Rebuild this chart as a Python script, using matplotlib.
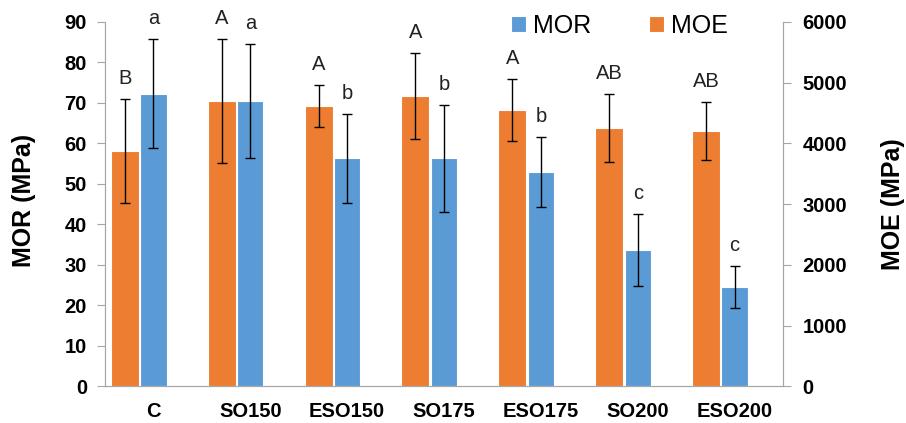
import matplotlib.pyplot as plt
import numpy as np

plt.rcParams['font.family'] = ['Liberation Sans', 'DejaVu Sans']

groups = ['C', 'SO150', 'ESO150', 'SO175', 'ESO175', 'SO200', 'ESO200']
mor = [72.3, 70.5, 56.3, 56.3, 53.0, 33.7, 24.5]
mor_err = [13.4, 14.1, 10.9, 13.2, 8.6, 8.9, 5.2]
moe = [3875, 4700, 4617, 4782, 4551, 4255, 4210]
moe_err = [855, 1015, 345, 707, 516, 565, 474]
mor_letters = ['a', 'a', 'b', 'b', 'b', 'c', 'c']
moe_letters = ['B', 'A', 'A', 'A', 'A', 'AB', 'AB']

orange = '#ED7D31'
blue = '#5B9BD5'
grey = '#A6A6A6'

fig = plt.figure(figsize=(9.06, 4.23), dpi=100)
ax = fig.add_axes([0.1159, 0.0863, 0.7483, 0.8617])
ax2 = ax.twinx()

ind = np.arange(len(groups))

# MOE on the right axis, MOR on the left
ax2.bar(ind - 0.295, moe, width=0.29, color=orange, edgecolor='white', linewidth=0.8,
        yerr=moe_err, error_kw=dict(ecolor='black', elinewidth=1, capsize=3.3, capthick=1),
        label='MOE', zorder=2)
ax2.bar(ind, np.array(mor) / 90 * 6000, width=0.27, color=blue, edgecolor='white', linewidth=0.8,
        yerr=np.array(mor_err) / 90 * 6000,
        error_kw=dict(ecolor='black', elinewidth=1, capsize=3.3, capthick=1),
        label='MOR', zorder=2)

for i in range(len(groups)):
    ax2.annotate(moe_letters[i], (ind[i] - 0.295, moe[i] + moe_err[i]),
                 xytext=(0, 8), textcoords='offset points', ha='center', va='bottom',
                 fontsize=14.5, color='#222222')
    ax2.annotate(mor_letters[i], ((ind[i]), (mor[i] + mor_err[i]) / 90 * 6000),
                 xytext=(0, 8), textcoords='offset points', ha='center', va='bottom',
                 fontsize=14.5, color='#222222')

ax.set_xlim(-0.5, len(groups) - 0.5)
ax.set_ylim(0, 90)
ax.set_yticks(np.arange(0, 91, 10))
ax2.set_ylim(0, 6000)
ax2.set_yticks(np.arange(0, 6001, 1000))

ax.set_xticks(ind)
ax.set_xticklabels(groups, fontsize=14.5, fontweight='bold')
ax.tick_params(axis='x', length=0, pad=11)
ax.tick_params(axis='y', labelsize=14.5, length=6, color=grey, direction='out', pad=7)
ax2.tick_params(axis='y', labelsize=14.5, length=6, color=grey, direction='out', pad=8)
for t in ax.get_yticklabels() + ax2.get_yticklabels():
    t.set_fontweight('bold')

for a in (ax, ax2):
    a.spines['top'].set_visible(False)
    a.spines['left'].set_color(grey)
    a.spines['right'].set_color(grey)
    a.spines['bottom'].set_color(grey)

ax.set_ylabel('MOR (MPa)', fontsize=18, fontweight='bold', va='center')
ax.yaxis.set_label_coords(-0.119, 0.51)
ax2.set_ylabel('MOE (MPa)', fontsize=18, fontweight='bold', va='center')
ax2.yaxis.set_label_coords(1.162, 0.50)

handles, labels = ax2.get_legend_handles_labels()
leg = ax2.legend(handles[::-1], labels[::-1], loc='upper left', bbox_to_anchor=(0.565, 1.085),
                 ncol=2, frameon=False, fontsize=18, handlelength=0.6, handleheight=0.6,
                 handletextpad=0.3, columnspacing=2.3)

fig.savefig('out.png', dpi=100)
